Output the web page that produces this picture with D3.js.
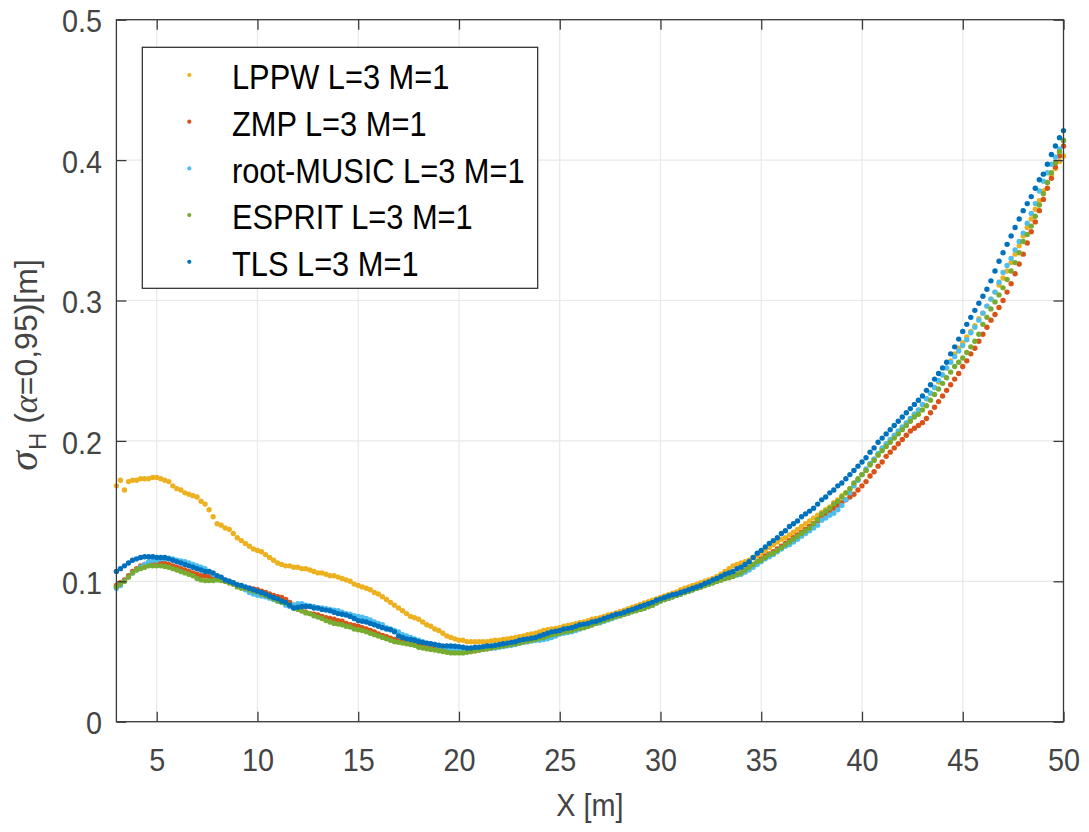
<!DOCTYPE html>
<html><head><meta charset="utf-8">
<script src="https://cdn.jsdelivr.net/npm/d3@7"></script>
<style>body{margin:0;background:#fff} svg{display:block}</style>
</head><body>
<svg id="c" width="1089" height="832"></svg>
<script>
// sampling grid X [m]: 3.0 : 0.2 : 50.0
const xValues = d3.range(236).map(i => +(3 + 0.2 * i).toFixed(1));

const lppw = [
.168,.172,.165,.171,.172,.172,.173,.173,.173,.174,
.174,.173,.172,.171,.168,.166,.165,.163,.162,.161,
.160,.157,.155,.151,.146,.141,.140,.138,.137,.134,
.131,.129,.127,.125,.123,.122,.121,.119,.117,.115,
.113,.112,.111,.111,.110,.110,.109,.109,.108,.107,
.106,.106,.105,.104,.104,.103,.102,.101,.100,.098,
.097,.096,.095,.094,.092,.091,.089,.087,.085,.083,
.081,.079,.077,.075,.074,.073,.071,.069,.068,.066,
.065,.063,.061,.060,.059,.058,.058,.057,.057,.057,
.057,.057,.057,.0575,.058,.058,.0585,.059,.0595,.060,
.0605,.061,.062,.0625,.063,.064,.065,.0655,.066,.0665,
.067,.068,.0685,.069,.070,.0705,.071,.072,.073,.0735,
.074,.075,.076,.0765,.0775,.0785,.0795,.0805,.0815,.0825,
.0835,.0845,.0855,.0865,.0875,.0885,.0895,.0905,.0915,.0925,
.094,.095,.096,.097,.098,.099,.100,.101,.102,.1035,
.105,.107,.109,.111,.112,.113,.114,.115,.117,.118,
.120,.122,.124,.126,.128,.130,.131,.133,.135,.137,
.139,.141,.143,.145,.147,.149,.151,.153,.156,.158,
.161,.163,.166,.169,.172,.176,.179,.183,.187,.190,
.194,.197,.200,.203,.206,.209,.212,.216,.219,.222,
.226,.230,.234,.238,.242,.247,.252,.257,.262,.266,
.270,.274,.278,.282,.287,.291,.296,.301,.306,.311,
.316,.321,.327,.333,.339,.346,.352,.358,.365,.371,
.378,.384,.389,.394,.399,.403];

const zmp = [
.097,.099,.101,.104,.107,.109,.111,.112,.113,.114,
.114,.113,.113,.112,.111,.110,.109,.108,.107,.106,
.105,.104,.104,.1035,.103,.102,.101,.100,.099,.098,
.097,.096,.0955,.095,.0945,.094,.093,.092,.091,.090,
.089,.0885,.087,.085,.083,.081,.079,.078,.077,.0765,
.076,.075,.074,.0735,.073,.072,.0715,.070,.069,.0685,
.068,.067,.066,.065,.064,.0625,.0615,.0605,.0595,.0585,
.0575,.057,.056,.0555,.055,.0545,.054,.053,.0525,.052,
.051,.0505,.050,.050,.0495,.0495,.0495,.050,.050,.0505,
.051,.0515,.052,.0525,.053,.0535,.054,.0545,.055,.0555,
.056,.0565,.057,.058,.0585,.059,.060,.061,.062,.063,
.0635,.064,.065,.0655,.066,.067,.0675,.068,.069,.070,
.071,.072,.073,.074,.075,.076,.077,.0775,.0785,.0795,
.080,.081,.082,.0835,.085,.086,.087,.088,.089,.090,
.091,.092,.093,.094,.095,.096,.097,.098,.099,.100,
.101,.102,.103,.104,.105,.106,.108,.110,.112,.114,
.116,.118,.1195,.121,.123,.125,.127,.129,.131,.133,
.135,.137,.139,.141,.143,.146,.148,.150,.152,.154,
.156,.158,.160,.162,.165,.168,.171,.175,.178,.182,
.185,.189,.192,.195,.198,.201,.204,.207,.209,.211,
.213,.216,.220,.224,.228,.232,.236,.240,.244,.248,
.253,.257,.262,.266,.271,.276,.281,.286,.290,.295,
.300,.306,.312,.319,.326,.333,.341,.349,.356,.364,
.372,.380,.387,.395,.403,.410];

const rootMusic = [
.095,.097,.100,.103,.106,.108,.110,.112,.114,.115,
.115,.116,.116,.1165,.116,.115,.1145,.114,.113,.112,
.111,.110,.109,.107,.105,.103,.102,.101,.100,.099,
.097,.096,.094,.092,.091,.090,.0895,.089,.088,.087,
.086,.085,.083,.082,.083,.084,.084,.083,.0825,.082,
.081,.081,.0805,.080,.0795,.079,.078,.077,.0765,.0755,
.075,.0745,.0735,.0725,.071,.070,.069,.067,.066,.065,
.064,.062,.061,.060,.059,.058,.057,.056,.0555,.055,
.054,.0535,.053,.052,.0515,.051,.051,.051,.0515,.0515,
.052,.052,.0525,.0525,.0525,.053,.0535,.054,.0545,.055,
.056,.0565,.057,.0575,.058,.058,.0585,.059,.060,.061,
.0625,.063,.0635,.064,.065,.066,.067,.068,.069,.070,
.0705,.0715,.0725,.0735,.0745,.0755,.0765,.0775,.0785,.0795,
.080,.081,.082,.083,.0845,.086,.087,.088,.089,.090,
.091,.092,.093,.094,.095,.096,.097,.098,.099,.100,
.101,.102,.103,.104,.1045,.105,.1065,.108,.110,.112,
.114,.116,.1175,.119,.121,.123,.125,.126,.128,.130,
.132,.134,.136,.138,.140,.1435,.145,.147,.1485,.151,
.154,.158,.163,.168,.172,.176,.180,.184,.187,.191,
.195,.198,.201,.204,.207,.210,.213,.216,.219,.222,
.226,.230,.234,.238,.243,.247,.252,.256,.260,.264,
.268,.272,.277,.281,.286,.291,.296,.301,.306,.313,
.320,.325,.330,.336,.342,.348,.355,.362,.369,.378,
.385,.391,.397,.402,.408,.414];

const esprit = [
.096,.098,.100,.103,.106,.108,.109,.110,.111,.111,
.111,.111,.1105,.110,.109,.108,.107,.106,.105,.104,
.102,.101,.1005,.1005,.1005,.101,.1005,.100,.099,.098,
.096,.095,.095,.094,.093,.0925,.091,.090,.089,.0875,
.086,.085,.0845,.083,.081,.080,.079,.0775,.077,.0755,
.0745,.0735,.072,.071,.070,.0695,.069,.068,.0675,.066,
.0655,.065,.064,.063,.062,.061,.060,.059,.058,.057,
.0565,.056,.0555,.055,.0545,.053,.0525,.052,.0515,.051,
.0505,.050,.0495,.049,.049,.049,.049,.0495,.050,.0505,
.051,.0515,.052,.0525,.053,.0535,.054,.0545,.055,.0555,
.056,.057,.0575,.058,.0585,.0595,.060,.061,.062,.0625,
.063,.064,.0645,.065,.066,.0665,.067,.068,.069,.070,
.071,.072,.073,.074,.075,.0755,.0765,.0775,.0785,.079,
.080,.081,.082,.083,.0845,.086,.087,.088,.089,.090,
.091,.092,.093,.094,.095,.096,.097,.098,.099,.100,
.101,.102,.1025,.1035,.105,.106,.108,.110,.112,.114,
.115,.117,.119,.120,.122,.124,.126,.128,.130,.132,
.134,.136,.138,.141,.144,.148,.150,.152,.155,.157,
.160,.163,.166,.170,.173,.176,.179,.183,.186,.190,
.193,.196,.199,.202,.205,.208,.211,.214,.217,.219,
.222,.225,.229,.233,.237,.241,.245,.249,.253,.256,
.259,.263,.267,.271,.276,.283,.288,.294,.299,.304,
.309,.315,.321,.327,.334,.342,.347,.353,.360,.368,
.376,.384,.391,.398,.406,.414];

const tls = [
.107,.109,.111,.113,.115,.116,.117,.1175,.1175,.1175,
.117,.117,.117,.116,.115,.114,.113,.112,.111,.110,
.109,.108,.107,.107,.106,.104,.103,.101,.100,.099,
.0975,.097,.096,.095,.094,.093,.092,.091,.0895,.0885,
.0875,.086,.085,.083,.081,.0815,.082,.082,.082,.081,
.081,.080,.0795,.079,.078,.077,.0765,.076,.075,.0735,
.072,.0715,.071,.070,.069,.068,.067,.066,.0655,.064,
.061,.060,.059,.0585,.058,.057,.0565,.056,.0555,.055,
.0545,.054,.054,.0539,.0537,.0535,.053,.0525,.0525,.053,
.053,.0535,.054,.054,.0545,.055,.0555,.056,.0565,.057,
.058,.0585,.059,.0595,.060,.061,.062,.063,.064,.0645,
.065,.066,.0665,.067,.068,.069,.0695,.070,.071,.0715,
.0725,.0735,.0745,.0755,.0765,.077,.078,.079,.080,.081,
.082,.083,.084,.085,.0865,.0875,.0885,.0895,.0905,.091,
.092,.093,.094,.095,.096,.097,.0985,.0995,.101,.102,
.1035,.105,.106,.107,.109,.110,.112,.114,.117,.120,
.122,.1245,.127,.129,.131,.134,.136,.139,.141,.143,
.146,.148,.150,.152,.155,.158,.160,.163,.165,.168,
.170,.173,.176,.179,.182,.185,.188,.192,.195,.199,
.202,.205,.208,.211,.214,.217,.220,.223,.226,.229,
.232,.236,.240,.244,.248,.252,.256,.262,.267,.2725,
.278,.283,.288,.293,.298,.303,.308,.314,.321,.328,
.334,.340,.346,.352,.358,.364,.369,.374,.380,.386,
.390,.397,.404,.410,.416,.421];

const seriesNames = ["LPPW L=3 M=1", "ZMP L=3 M=1", "root-MUSIC L=3 M=1", "ESPRIT L=3 M=1", "TLS L=3 M=1"];
const seriesColors = ["#EDB120", "#D95319", "#4DBEEE", "#77AC30", "#0072BD"];
const seriesValues = [lppw, zmp, rootMusic, esprit, tls];

const xTicks = [5, 10, 15, 20, 25, 30, 35, 40, 45, 50];
const yTicks = [0, 0.1, 0.2, 0.3, 0.4, 0.5];
const yTickLabels = ["0", "0.1", "0.2", "0.3", "0.4", "0.5"];

const L = 116.4, R = 1063.5, T = 19.7, B = 721.7;
const x = d3.scaleLinear().domain([3, 50]).range([L, R]);
const y = d3.scaleLinear().domain([0, 0.5]).range([B, T]);

const svg = d3.select("#c");
const axisColor = "#3a3a3a";
const tickColor = "#444";

// grid
const grid = svg.append("g");
grid.selectAll("line.gx").data(xTicks).join("line")
  .attr("x1", d => x(d)).attr("x2", d => x(d)).attr("y1", T).attr("y2", B)
  .attr("stroke", "#e8e8e8").attr("stroke-width", 1.2);
grid.selectAll("line.gy").data(yTicks).join("line")
  .attr("x1", L).attr("x2", R).attr("y1", d => y(d)).attr("y2", d => y(d))
  .attr("stroke", "#e8e8e8").attr("stroke-width", 1.2);

// data points
svg.append("clipPath").attr("id", "clp").append("rect")
  .attr("x", L - 4).attr("y", T).attr("width", R - L + 8).attr("height", B - T);
const plot = svg.append("g").attr("clip-path", "url(#clp)");
seriesValues.forEach((vals, si) => {
  plot.append("g").selectAll("circle").data(vals).join("circle")
    .attr("cx", (d, i) => x(xValues[i]))
    .attr("cy", d => y(d))
    .attr("r", 2.7)
    .attr("fill", seriesColors[si]);
});

// axes
function styleAxis(g) {
  g.select(".domain").remove();
  g.selectAll(".tick line").attr("stroke", axisColor).attr("stroke-width", 1.3);
  g.selectAll(".tick text").attr("fill", tickColor)
    .attr("font-family", "'Liberation Sans', Arial, sans-serif").attr("font-size", 32);
}
const xAxis = svg.append("g").attr("transform", `translate(0,${B})`)
  .call(d3.axisBottom(x).tickValues(xTicks).tickSizeInner(-10).tickSizeOuter(0).tickPadding(0).tickFormat(d3.format("d")));
styleAxis(xAxis);
xAxis.selectAll(".tick text").attr("y", 27).attr("transform", "scale(0.9,1)");

const xAxisTop = svg.append("g").attr("transform", `translate(0,${T})`)
  .call(d3.axisTop(x).tickValues(xTicks).tickSizeInner(-10).tickSizeOuter(0).tickFormat(""));
styleAxis(xAxisTop);

const yAxis = svg.append("g").attr("transform", `translate(${L},0)`)
  .call(d3.axisLeft(y).tickValues(yTicks).tickSizeInner(-10).tickSizeOuter(0).tickFormat((d, i) => yTickLabels[i]));
styleAxis(yAxis);
yAxis.selectAll(".tick text").attr("x", -14.5 / 0.9).attr("dy", "0.38em").attr("transform", "scale(0.9,1)");

const yAxisRight = svg.append("g").attr("transform", `translate(${R},0)`)
  .call(d3.axisRight(y).tickValues(yTicks).tickSizeInner(-10).tickSizeOuter(0).tickFormat(""));
styleAxis(yAxisRight);

// box
svg.append("rect").attr("x", L).attr("y", T).attr("width", R - L).attr("height", B - T)
  .attr("fill", "none").attr("stroke", axisColor).attr("stroke-width", 1.3);

// x label
svg.append("text")
  .attr("transform", `translate(${(L + R) / 2},816) scale(0.9,1)`)
  .attr("text-anchor", "middle").attr("fill", tickColor)
  .attr("font-family", "'Liberation Sans', Arial, sans-serif").attr("font-size", 32)
  .text("X [m]");

// y label
const yl = svg.append("text")
  .attr("transform", `translate(37,365) rotate(-90)`)
  .attr("text-anchor", "middle").attr("fill", tickColor)
  .attr("font-family", "'Liberation Sans', Arial, sans-serif").attr("font-size", 32);
yl.append("tspan").attr("font-family", "'Liberation Serif', serif").attr("font-style", "italic").attr("font-size", 40).text("σ");
yl.append("tspan").attr("font-size", 24).attr("dy", 9).attr("dx", 1).text("H");
yl.append("tspan").attr("dy", -9).text("  (");
yl.append("tspan").attr("font-family", "'Liberation Serif', serif").attr("font-style", "italic").attr("font-size", 34).text("α");
yl.append("tspan").text("=0,95)[m]");

// legend
const lg = svg.append("g");
lg.append("rect").attr("x", 142.3).attr("y", 47.3).attr("width", 395.4).attr("height", 241)
  .attr("fill", "#fff").attr("stroke", "#262626").attr("stroke-width", 1.2);
seriesNames.forEach((name, i) => {
  const base = 89.3 + i * 46.7;
  lg.append("circle").attr("cx", 189.3).attr("cy", base - 14.3).attr("r", 2.1).attr("fill", seriesColors[i]);
  lg.append("text").attr("transform", `translate(232,${base}) scale(0.88,1)`)
    .attr("font-family", "'Liberation Sans', Arial, sans-serif").attr("font-size", 35)
    .attr("fill", "#000").text(name);
});
</script>
</body></html>
